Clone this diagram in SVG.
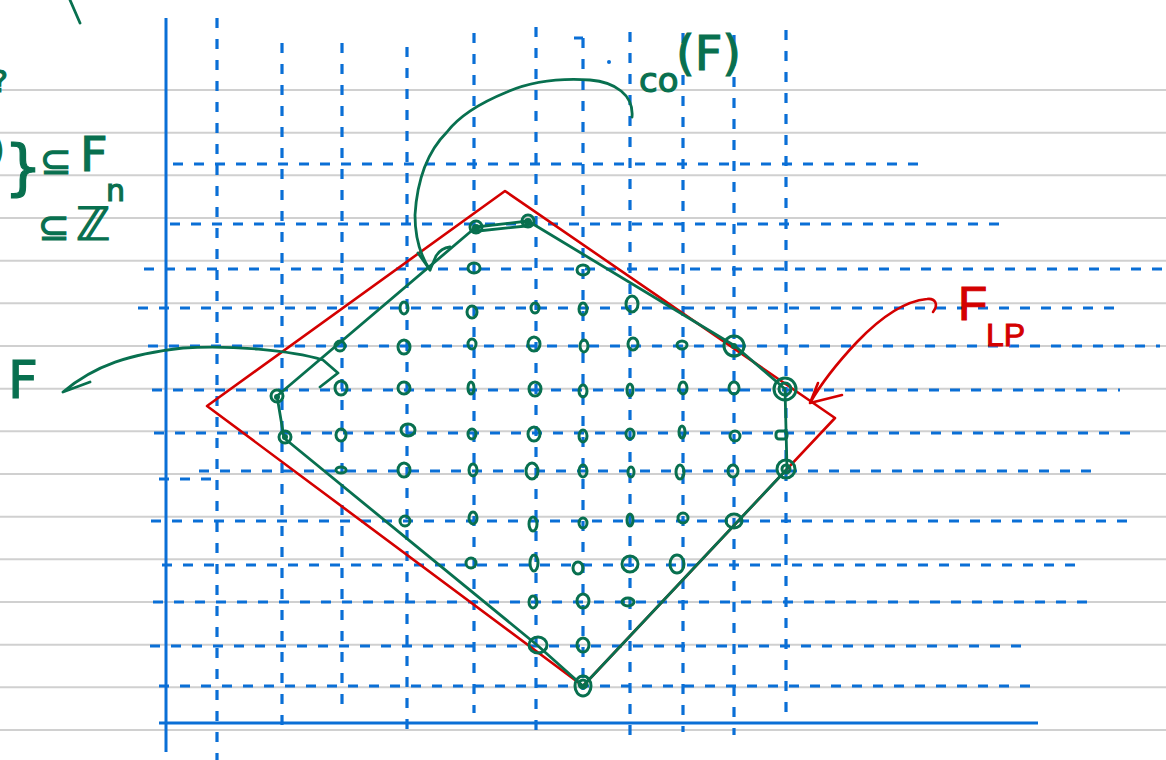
<svg xmlns="http://www.w3.org/2000/svg" width="1166" height="760" viewBox="0 0 1166 760">
<style>
.rule{stroke:#d0d0d0;stroke-width:2}
.ax{stroke:#0a6fd6;stroke-width:3;fill:none}
.dh{stroke:#0a6fd6;stroke-width:3.2;stroke-dasharray:10 11;fill:none}
.g{stroke:#08704f;stroke-width:2.8;fill:none;stroke-linecap:round;stroke-linejoin:round}
.gf{fill:#08704f}
.r{stroke:#d40000;stroke-width:2.6;fill:none;stroke-linecap:round;stroke-linejoin:round}
.pt{fill:none;stroke:#08704f;stroke-width:3}
.pb{fill:none;stroke:#08704f;stroke-width:3}
.tg{fill:#08704f;stroke:#08704f;stroke-width:1.2;font-family:"DejaVu Sans","Liberation Sans",sans-serif}
.tr{fill:#d40000;stroke:#d40000;stroke-width:1;font-family:"Liberation Sans","DejaVu Sans",sans-serif}
</style>
<rect width="1166" height="760" fill="#ffffff"/>
<g id="ruled-paper">
<line class="rule" x1="0" y1="90" x2="1166" y2="90"/>
<line class="rule" x1="0" y1="132.7" x2="1166" y2="132.7"/>
<line class="rule" x1="0" y1="175.3" x2="1166" y2="175.3"/>
<line class="rule" x1="0" y1="218" x2="1166" y2="218"/>
<line class="rule" x1="0" y1="260.7" x2="1166" y2="260.7"/>
<line class="rule" x1="0" y1="303.3" x2="1166" y2="303.3"/>
<line class="rule" x1="0" y1="346" x2="1166" y2="346"/>
<line class="rule" x1="0" y1="388.7" x2="1166" y2="388.7"/>
<line class="rule" x1="0" y1="431.3" x2="1166" y2="431.3"/>
<line class="rule" x1="0" y1="474" x2="1166" y2="474"/>
<line class="rule" x1="0" y1="516.7" x2="1166" y2="516.7"/>
<line class="rule" x1="0" y1="559.3" x2="1166" y2="559.3"/>
<line class="rule" x1="0" y1="602" x2="1166" y2="602"/>
<line class="rule" x1="0" y1="644.7" x2="1166" y2="644.7"/>
<line class="rule" x1="0" y1="687.3" x2="1166" y2="687.3"/>
<line class="rule" x1="0" y1="730" x2="1166" y2="730"/>
</g>
<g id="grid">
<line class="dh" x1="173" y1="164" x2="926" y2="164"/>
<line class="dh" x1="170" y1="224" x2="1006" y2="224"/>
<line class="dh" x1="144" y1="269" x2="1166" y2="269"/>
<line class="dh" x1="138" y1="308" x2="1123" y2="308"/>
<line class="dh" x1="148" y1="346" x2="1160" y2="346"/>
<line class="dh" x1="152" y1="390" x2="1120" y2="390"/>
<line class="dh" x1="154" y1="433" x2="1139" y2="433"/>
<line class="dh" x1="199" y1="471" x2="1099" y2="471"/>
<line class="dh" x1="159" y1="479" x2="213" y2="479"/>
<line class="dh" x1="151" y1="521" x2="1133" y2="521"/>
<line class="dh" x1="162" y1="565" x2="1083" y2="565"/>
<line class="dh" x1="153" y1="602" x2="1090" y2="602"/>
<line class="dh" x1="150" y1="646" x2="1029" y2="646"/>
<line class="dh" x1="159" y1="686" x2="1038" y2="686"/>
<line class="dh" x1="217" y1="18" x2="217" y2="760"/>
<line class="dh" x1="282" y1="43" x2="282" y2="730"/>
<line class="dh" x1="342" y1="43" x2="342" y2="710"/>
<line class="dh" x1="407" y1="47" x2="407" y2="734"/>
<line class="dh" x1="474" y1="33" x2="474" y2="713"/>
<line class="dh" x1="536" y1="27" x2="536" y2="735"/>
<line class="dh" x1="583" y1="38" x2="583" y2="690"/>
<line class="ax" x1="574" y1="38" x2="583" y2="38"/>
<line class="dh" x1="630" y1="32" x2="630" y2="737"/>
<line class="dh" x1="683" y1="33" x2="683" y2="732"/>
<line class="dh" x1="734" y1="35" x2="734" y2="735"/>
<line class="dh" x1="786" y1="30" x2="786" y2="720"/>
<line class="ax" x1="166" y1="18" x2="166" y2="752"/>
<line class="ax" x1="159" y1="723" x2="1038" y2="723"/>
<circle cx="609" cy="62" r="2" fill="#0a6fd6"/>
</g>
<g id="lp-region">
<polygon class="r" points="505,191 835,418 583,686 207,406"/>
</g>
<g id="hull">
<polyline class="g" points="277,396 476,227 528,221 735,346 785,389 787,469 583,686 537,645 284,438 277,396"/>
<path class="g" d="M478,231 L526,226"/>
</g>
<g id="lattice-points">
<ellipse class="pt" cx="474" cy="268" rx="6" ry="5"/>
<ellipse class="pt" cx="583" cy="270" rx="6" ry="5"/>
<ellipse class="pt" cx="404" cy="308" rx="4" ry="6"/>
<ellipse class="pt" cx="472" cy="312" rx="5" ry="6"/>
<ellipse class="pt" cx="535" cy="308" rx="4" ry="5"/>
<ellipse class="pt" cx="583" cy="309" rx="4" ry="6"/>
<ellipse class="pt" cx="632" cy="304" rx="6" ry="8"/>
<ellipse class="pt" cx="340" cy="346" rx="5" ry="5"/>
<ellipse class="pt" cx="404" cy="347" rx="6" ry="7"/>
<ellipse class="pt" cx="472" cy="344" rx="4" ry="5"/>
<ellipse class="pt" cx="534" cy="344" rx="6" ry="7"/>
<ellipse class="pt" cx="584" cy="346" rx="4" ry="6"/>
<ellipse class="pt" cx="633" cy="344" rx="5" ry="6"/>
<ellipse class="pt" cx="682" cy="345" rx="5" ry="4"/>
<ellipse class="pt" cx="341" cy="388" rx="6" ry="7"/>
<ellipse class="pt" cx="404" cy="388" rx="6" ry="6"/>
<ellipse class="pt" cx="471" cy="388" rx="3" ry="6"/>
<ellipse class="pt" cx="535" cy="389" rx="6" ry="7"/>
<ellipse class="pt" cx="583" cy="391" rx="4" ry="6"/>
<ellipse class="pt" cx="630" cy="390" rx="3" ry="6"/>
<ellipse class="pt" cx="683" cy="388" rx="4" ry="6"/>
<ellipse class="pt" cx="734" cy="388" rx="5" ry="6"/>
<ellipse class="pt" cx="341" cy="435" rx="5" ry="6"/>
<ellipse class="pt" cx="408" cy="430" rx="7" ry="6"/>
<ellipse class="pt" cx="472" cy="434" rx="4" ry="5"/>
<ellipse class="pt" cx="534" cy="434" rx="6" ry="7"/>
<ellipse class="pt" cx="583" cy="436" rx="4" ry="6"/>
<ellipse class="pt" cx="630" cy="434" rx="4" ry="5"/>
<ellipse class="pt" cx="682" cy="432" rx="3" ry="6"/>
<ellipse class="pt" cx="735" cy="436" rx="5" ry="5"/>
<rect class="pt" x="776" y="431" width="11" height="8" rx="3"/>
<ellipse class="pt" cx="341" cy="470" rx="5" ry="3"/>
<ellipse class="pt" cx="404" cy="470" rx="6" ry="7"/>
<ellipse class="pt" cx="473" cy="470" rx="4" ry="6"/>
<ellipse class="pt" cx="532" cy="471" rx="6" ry="8"/>
<ellipse class="pt" cx="583" cy="471" rx="4" ry="6"/>
<ellipse class="pt" cx="631" cy="472" rx="3" ry="5"/>
<ellipse class="pt" cx="680" cy="472" rx="4" ry="7"/>
<ellipse class="pt" cx="733" cy="471" rx="5" ry="6"/>
<ellipse class="pt" cx="405" cy="521" rx="5" ry="5"/>
<ellipse class="pt" cx="473" cy="518" rx="4" ry="6"/>
<ellipse class="pt" cx="533" cy="524" rx="4" ry="7"/>
<ellipse class="pt" cx="583" cy="523" rx="4" ry="5"/>
<ellipse class="pt" cx="630" cy="520" rx="3" ry="6"/>
<ellipse class="pt" cx="683" cy="518" rx="5" ry="5"/>
<ellipse class="pt" cx="734" cy="521" rx="8" ry="7"/>
<ellipse class="pt" cx="471" cy="563" rx="5" ry="5"/>
<ellipse class="pt" cx="534" cy="563" rx="4" ry="8"/>
<ellipse class="pt" cx="578" cy="568" rx="5" ry="6"/>
<ellipse class="pt" cx="630" cy="564" rx="8" ry="8"/>
<ellipse class="pt" cx="677" cy="564" rx="7" ry="9"/>
<ellipse class="pt" cx="533" cy="602" rx="4" ry="6"/>
<ellipse class="pt" cx="583" cy="601" rx="6" ry="7"/>
<ellipse class="pt" cx="628" cy="602" rx="6" ry="4"/>
<ellipse class="pt" cx="583" cy="645" rx="6" ry="7"/>
</g>
<g id="hull-vertices">
<circle class="pb" cx="476" cy="227" r="6"/><circle class="gf" cx="476" cy="228" r="4"/>
<circle class="pb" cx="528" cy="221" r="6"/><circle class="gf" cx="528" cy="222" r="4"/>
<circle class="pb" cx="734" cy="346" r="10"/><circle class="gf" cx="734" cy="346" r="3"/>
<circle class="pb" cx="785" cy="389" r="11"/><circle class="pb" cx="785" cy="389" r="6"/>
<circle class="pb" cx="786" cy="469" r="9"/><circle class="pb" cx="786" cy="469" r="4"/>
<ellipse class="pb" cx="583" cy="686" rx="8" ry="10"/><circle class="pb" cx="583" cy="684" r="4"/>
<ellipse class="pb" cx="538" cy="645" rx="9" ry="8"/>
<circle class="pb" cx="277" cy="396" r="6"/><circle class="gf" cx="277" cy="397" r="3"/>
<circle class="pb" cx="285" cy="437" r="6"/><circle class="gf" cx="285" cy="437" r="3"/>
</g>
<g id="annotations">
<path class="g" d="M632,117 C634,95 615,82 590,80 C560,78 530,82 507,92 C480,103 460,115 447,132 C426,153 417,182 415,215 C415,240 422,258 430,270"/>
<path class="g" d="M418,253 L430,270 L436,256 Q441,248 450,247"/>
<path class="g" d="M63,392 L90,382 M63,392 C95,365 130,354 183,348 C230,345 290,350 323,360 L338,373 L320,387"/>
<path class="r" d="M933,312 C939,304 935,298 927,299 C905,301 880,318 857,342 C840,360 822,382 810,403 M818,383 L810,403 L842,395"/>
<path class="g" d="M70,0 L80,23"/>
</g>
<g id="labels">
<text class="tg" x="8" y="398" font-size="52" font-family="Liberation Sans">F</text>
<text class="tg" x="639" y="92" font-size="34" font-family="Liberation Sans">co<tspan x="676" y="70" font-size="48">(F)</tspan></text>
<text class="tr" x="958" y="320" font-size="48">F<tspan x="986" y="346" font-size="32">LP</tspan></text>
<text class="tg" x="4" y="188" font-size="60" font-family="Liberation Sans">}<tspan x="-8" y="92" font-size="30" font-family="DejaVu Sans">?</tspan><tspan x="-10" y="162" font-size="38" font-family="DejaVu Sans">)</tspan><tspan x="40" y="174" font-size="38" font-family="DejaVu Sans">⊆</tspan><tspan x="80" y="171" font-size="48">F</tspan><tspan x="38" y="240" font-size="38" font-family="DejaVu Sans">⊆</tspan><tspan x="76" y="240" font-size="46" font-family="DejaVu Sans">ℤ</tspan><tspan x="106" y="201" font-size="30" font-family="DejaVu Sans">n</tspan></text>
</g>
</svg>
